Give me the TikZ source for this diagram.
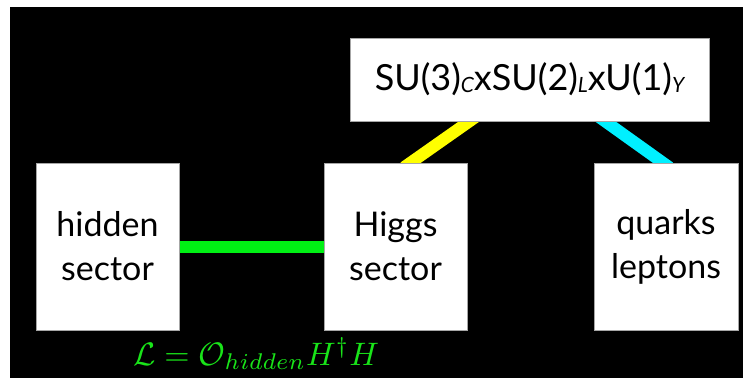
\documentclass[tikz,border=0pt]{standalone}
\usepackage{graphicx}
\usepackage{fontspec}
\setmainfont{Lato}
\usetikzlibrary{backgrounds}
\definecolor{linkgreen}{RGB}{0,240,20}
\definecolor{textgreen}{RGB}{25,228,25}
\definecolor{linkyellow}{RGB}{255,255,0}
\definecolor{linkcyan}{RGB}{0,240,255}
\newcommand{\subtxt}[1]{\raisebox{-1.5pt}{\fontsize{21}{21}\selectfont\itshape #1}}
\begin{document}
\begin{tikzpicture}[x=1pt,y=-1pt,
  sector/.style={fill=white,draw=gray!70,line width=0.5pt,inner sep=0pt,
    minimum width=143pt,minimum height=167pt,align=center,
    font=\fontsize{34}{44}\selectfont},
  groupbox/.style={fill=white,draw=gray!70,line width=0.5pt,inner sep=0pt,
    minimum width=359pt,minimum height=83pt,
    font=\fontsize{36}{40}\selectfont},
  link/.style={line width=12pt,line cap=butt,shorten <=-8pt,shorten >=-8pt}]
\useasboundingbox (0,0) rectangle (743,378);

% sectors and gauge group
\node[sector] (hidden) at (107.5,246.5) {hidden\\sector};
\node[sector] (higgs) at (395.5,246.5) {Higgs\\sector};
\node[sector,minimum width=144pt] (quarks) at (666,246.5) {quarks\\leptons};
\node[groupbox] (gauge) at (529.5,79.5)
  {SU(3)\subtxt{C}xSU(2)\subtxt{L}xU(1)\subtxt{Y}};

% portal coupling
\node[anchor=base,text=textgreen,inner sep=0pt]
  (coupling) at (256,365)
  {\scalebox{3.25}{$\mathcal{L}=\mathcal{O}_{hidden}H^{\dagger}H$}};

\begin{pgfonlayer}{background}
  \fill[white] (0,0) rectangle (743,378);
  \fill[black] (10,7) rectangle (743,378);
  \draw[link,linkgreen] (hidden) -- (higgs);
  \draw[link,linkyellow] ([xshift=15pt]higgs.north) -- ([xshift=-60pt]gauge.south);
  \draw[link,linkcyan] ([xshift=75.5pt]gauge.south) -- ([xshift=-3pt]quarks.north);
\end{pgfonlayer}
\end{tikzpicture}
\end{document}
